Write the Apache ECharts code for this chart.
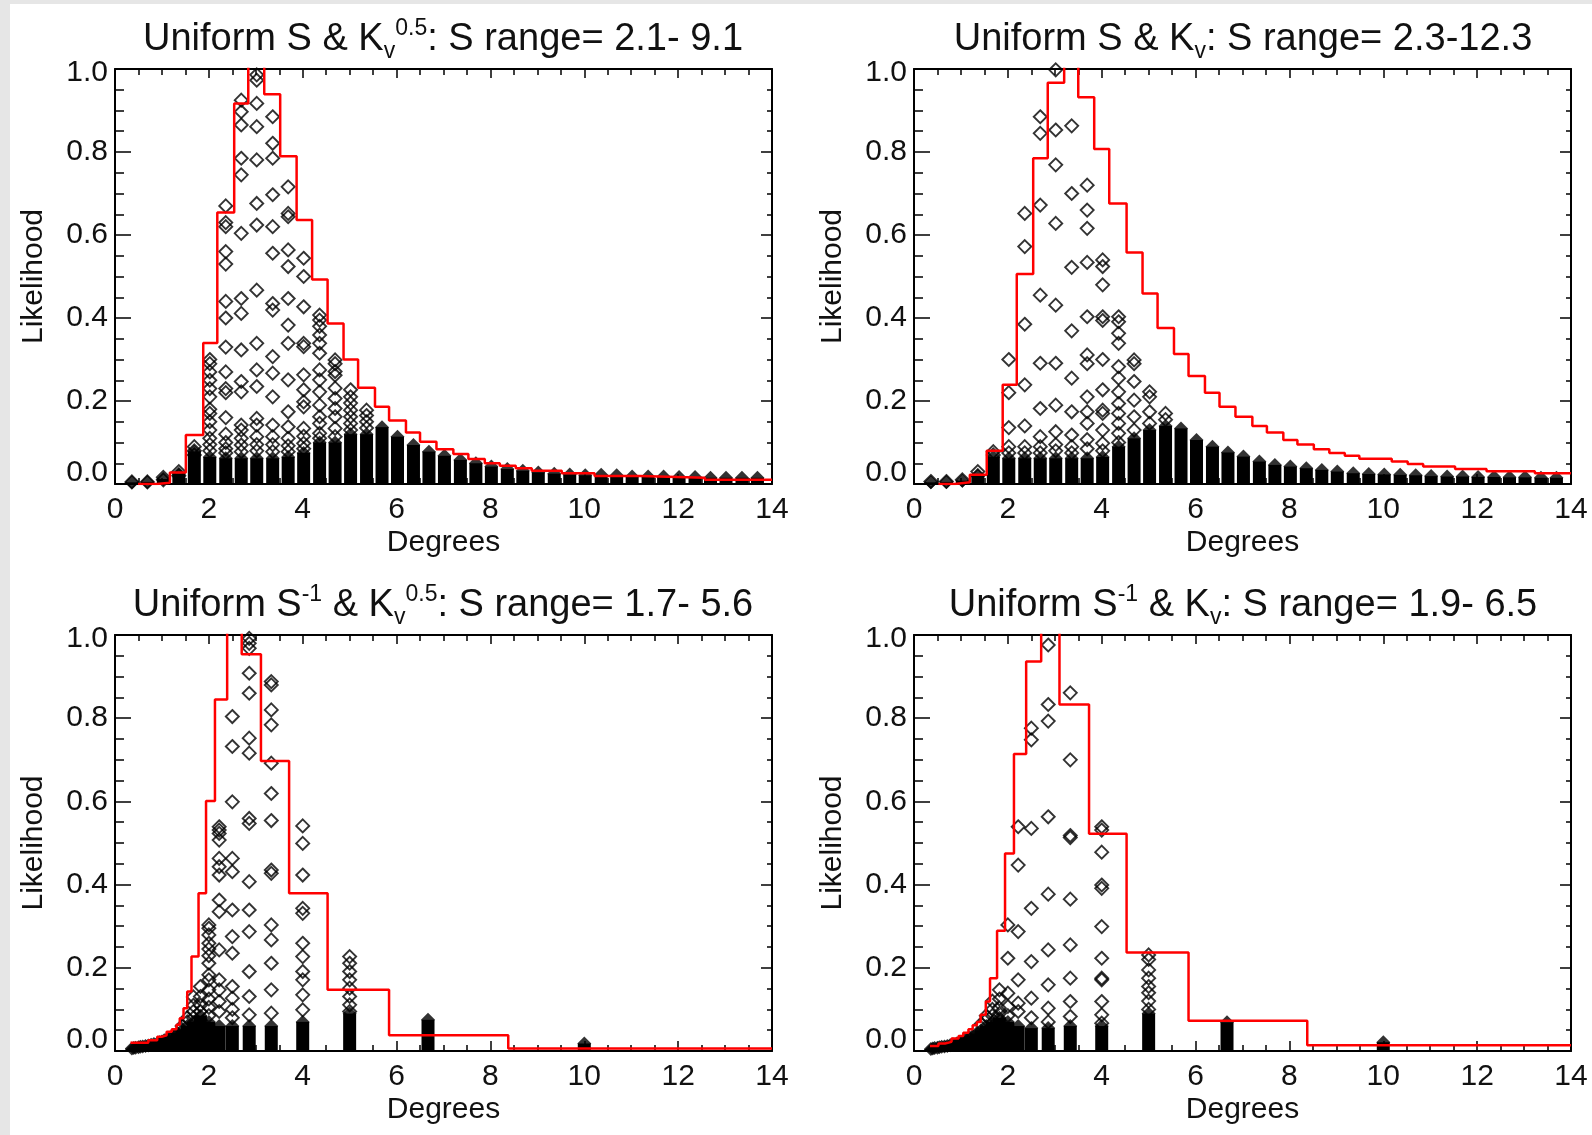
<!DOCTYPE html>
<html><head><meta charset="utf-8">
<script src="https://cdn.jsdelivr.net/npm/echarts@6/dist/echarts.min.js"></script>
<style>
html,body{margin:0;padding:0;background:#e6e6e6}
#c{width:1592px;height:1135px;background:linear-gradient(#fff,#fff) 10px 4px/1582px 1131px no-repeat,#e6e6e6}
</style>
</head><body><div id="c"></div>
<script>
// ---------- DATA ----------
const titles = [
  '{m|Uniform S & K}{sub|v}{sup|0.5}{m|: S range= 2.1- 9.1}',
  '{m|Uniform S & K}{sub|v}{m|: S range= 2.3-12.3}',
  '{m|Uniform S}{sup|-1}{m| & K}{sub|v}{sup|0.5}{m|: S range= 1.7- 5.6}',
  '{m|Uniform S}{sup|-1}{m| & K}{sub|v}{m|: S range= 1.9- 6.5}'
];
const xTickLabels = [0, 2, 4, 6, 8, 10, 12, 14];
const yTickLabels = ['0.0', '0.2', '0.4', '0.6', '0.8', '1.0'];

// panel 1: step histogram (bin edges, bin heights)
const p1StepX = [0.49,0.89,1.17,1.51,1.88,2.18,2.54,2.84,3.18,3.52,3.87,4.20,4.53,4.87,5.18,5.54,5.84,6.20,6.50,6.85,7.21,7.53,7.88,8.20,8.54,8.88,9.52,10.22,11.19,12.57,14.0];
const p1StepY = [0.0,0.003,0.028,0.118,0.340,0.654,0.917,1.05,0.939,0.790,0.636,0.493,0.387,0.300,0.232,0.186,0.153,0.124,0.102,0.084,0.072,0.060,0.050,0.044,0.038,0.032,0.026,0.019,0.015,0.010];
// panel 2
const p2StepX = [0.52,0.87,1.19,1.55,1.89,2.19,2.54,2.85,3.20,3.50,3.84,4.16,4.53,4.87,5.19,5.54,5.85,6.20,6.51,6.85,7.21,7.52,7.87,8.17,8.52,8.85,9.18,9.49,10.18,10.52,10.85,11.53,12.20,13.23,14.0];
const p2StepY = [0.0,0.004,0.022,0.080,0.239,0.506,0.785,0.967,1.05,0.932,0.807,0.676,0.558,0.459,0.376,0.313,0.260,0.220,0.186,0.162,0.140,0.124,0.106,0.095,0.084,0.075,0.068,0.061,0.054,0.048,0.042,0.036,0.031,0.026];
// panel 3
const p3StepX = [0.33,0.71,0.90,0.99,1.10,1.21,1.31,1.38,1.46,1.54,1.63,1.78,1.94,2.13,2.39,2.70,3.11,3.71,4.53,5.84,8.38,14.0];
const p3StepY = [0.020,0.026,0.034,0.038,0.046,0.052,0.063,0.079,0.103,0.143,0.227,0.379,0.601,0.845,1.05,0.954,0.697,0.379,0.147,0.038,0.006];
// panel 4
const p4StepX = [0.34,0.52,0.66,0.80,0.95,1.05,1.16,1.25,1.34,1.42,1.53,1.62,1.77,1.94,2.13,2.39,2.71,3.10,3.73,4.53,5.85,8.38,14.0];
const p4StepY = [0.012,0.018,0.022,0.030,0.036,0.044,0.052,0.062,0.070,0.087,0.119,0.175,0.289,0.475,0.714,0.936,1.05,0.833,0.522,0.237,0.073,0.014];

// columns of diamonds (x positions) and the height of the solid, overlapping stack in each column
const colX12 = [0.36,0.69,1.03,1.36,1.69,2.02,2.36,2.69,3.02,3.36,3.69,4.02,4.36,4.69,5.02,5.36,5.69,6.02,6.36,6.69,7.02,7.36,7.69,8.02,8.36,8.69,9.02,9.36,9.69,10.02,10.36,10.69,11.02,11.36,11.69,12.02,12.36,12.69,13.02,13.36,13.69];
const p1Dense = [0.004,0.005,0.012,0.025,0.078,0.065,0.062,0.062,0.062,0.062,0.065,0.075,0.10,0.10,0.12,0.12,0.137,0.114,0.094,0.078,0.068,0.058,0.050,0.042,0.036,0.032,0.028,0.025,0.023,0.021,0.022,0.021,0.018,0.018,0.018,0.017,0.017,0.015,0.015,0.015,0.015];
const p2Dense = [0.004,0.005,0.008,0.02,0.065,0.062,0.062,0.062,0.062,0.062,0.062,0.065,0.09,0.11,0.13,0.14,0.134,0.106,0.090,0.076,0.066,0.054,0.046,0.042,0.038,0.034,0.030,0.026,0.024,0.023,0.022,0.021,0.019,0.018,0.018,0.017,0.017,0.016,0.016,0.015,0.015];
const colX34 = [0.36,0.40,0.44,0.50,0.54,0.59,0.65,0.71,0.77,0.83,0.91,0.95,1.00,1.05,1.11,1.18,1.25,1.33,1.43,1.54,1.67,1.82,2.00,2.22,2.50,2.86,3.33,4.00,5.00,6.67,10.0];
const p3Dense = [0.006,0.007,0.008,0.009,0.010,0.011,0.012,0.013,0.015,0.017,0.019,0.021,0.023,0.026,0.029,0.033,0.037,0.043,0.050,0.060,0.070,0.085,0.07,0.06,0.06,0.06,0.06,0.07,0.09,0.075,0.018];
const p4Dense = [0.005,0.006,0.007,0.008,0.009,0.010,0.011,0.012,0.014,0.016,0.018,0.020,0.022,0.025,0.028,0.032,0.036,0.042,0.050,0.060,0.070,0.080,0.07,0.06,0.055,0.055,0.06,0.06,0.09,0.069,0.021];

// distinct open diamonds: [column x, [y values]]
const p1Pts = [
  [0.36,[0.005]],[0.69,[0.005]],[1.03,[0.01,0.016]],[1.36,[0.02,0.03]],[1.69,[0.09,0.08,0.07]],
  [2.02,[0.30,0.29,0.27,0.25,0.23,0.21,0.18,0.17,0.15,0.13,0.11,0.095,0.08]],
  [2.36,[0.67,0.63,0.62,0.56,0.53,0.44,0.40,0.33,0.27,0.23,0.22,0.16,0.12,0.10,0.085,0.075]],
  [2.69,[0.925,0.897,0.865,0.785,0.745,0.604,0.447,0.411,0.323,0.247,0.222,0.142,0.13,0.11,0.094,0.078]],
  [3.02,[0.986,0.973,0.917,0.861,0.781,0.676,0.624,0.467,0.339,0.275,0.235,0.158,0.142,0.114,0.095,0.08]],
  [3.36,[0.885,0.821,0.785,0.697,0.620,0.556,0.435,0.419,0.307,0.267,0.210,0.142,0.114,0.095,0.078]],
  [3.69,[0.716,0.652,0.644,0.564,0.524,0.447,0.383,0.339,0.251,0.174,0.138,0.11,0.092,0.078]],
  [4.02,[0.544,0.500,0.427,0.339,0.331,0.263,0.227,0.198,0.186,0.134,0.115,0.098,0.085]],
  [4.36,[0.407,0.395,0.38,0.359,0.339,0.315,0.275,0.251,0.222,0.190,0.162,0.146,0.122,0.11]],
  [4.69,[0.299,0.29,0.271,0.262,0.231,0.206,0.182,0.162,0.134,0.114]],
  [5.02,[0.227,0.21,0.195,0.178,0.162,0.146,0.13]],
  [5.36,[0.178,0.165,0.15,0.135]]
];
const p2Pts = [
  [0.36,[0.006]],[0.69,[0.006]],[1.03,[0.01]],[1.36,[0.02,0.03]],[1.69,[0.078,0.07]],
  [2.02,[0.300,0.220,0.136,0.09,0.075]],
  [2.36,[0.652,0.572,0.385,0.239,0.140,0.09,0.075]],
  [2.69,[0.885,0.845,0.672,0.455,0.291,0.182,0.114,0.09,0.075]],
  [3.02,[0.998,0.853,0.769,0.628,0.431,0.291,0.190,0.126,0.095,0.08]],
  [3.36,[0.863,0.700,0.522,0.369,0.255,0.174,0.118,0.09,0.075]],
  [3.69,[0.720,0.660,0.616,0.534,0.403,0.311,0.29,0.210,0.174,0.146,0.107,0.085]],
  [4.02,[0.540,0.524,0.480,0.403,0.394,0.300,0.227,0.178,0.17,0.130,0.098,0.08]],
  [4.36,[0.403,0.391,0.363,0.339,0.283,0.255,0.222,0.194,0.170,0.146,0.122,0.10]],
  [4.69,[0.299,0.29,0.247,0.202,0.162,0.130]],
  [5.02,[0.222,0.21,0.174,0.146]],
  [5.36,[0.170,0.155]]
];
const p3Pts = [
  [1.43,[0.06]],[1.54,[0.08,0.07]],[1.67,[0.13,0.11,0.095,0.08]],[1.82,[0.155,0.131,0.11,0.095]],
  [2.00,[0.303,0.295,0.279,0.259,0.245,0.229,0.211,0.183,0.171,0.147,0.125,0.105,0.085]],
  [2.22,[0.539,0.531,0.523,0.507,0.463,0.443,0.423,0.363,0.335,0.243,0.171,0.147,0.119,0.095]],
  [2.50,[0.804,0.732,0.599,0.463,0.431,0.339,0.275,0.235,0.155,0.127,0.10,0.08]],
  [2.86,[0.992,0.98,0.968,0.908,0.860,0.752,0.716,0.559,0.547,0.407,0.339,0.287,0.191,0.131,0.087]],
  [3.33,[0.888,0.880,0.820,0.784,0.692,0.619,0.554,0.435,0.427,0.303,0.267,0.211,0.147,0.091]],
  [4.00,[0.541,0.499,0.423,0.343,0.331,0.259,0.227,0.191,0.171,0.135,0.099]],
  [5.00,[0.227,0.211,0.191,0.171,0.151,0.131,0.111,0.095]]
];
const p4Pts = [
  [1.43,[0.065]],[1.54,[0.085,0.075]],[1.67,[0.12,0.10,0.085]],[1.82,[0.147,0.125,0.103,0.09]],
  [2.00,[0.303,0.223,0.139,0.107,0.085]],
  [2.22,[0.539,0.447,0.287,0.171,0.115,0.095]],
  [2.50,[0.776,0.748,0.535,0.343,0.215,0.127,0.08]],
  [2.86,[0.976,0.833,0.793,0.563,0.377,0.243,0.159,0.103,0.07]],
  [3.33,[0.861,0.700,0.518,0.513,0.365,0.255,0.175,0.119,0.083]],
  [4.00,[0.539,0.531,0.478,0.399,0.391,0.299,0.223,0.175,0.171,0.119,0.087,0.067]],
  [5.00,[0.231,0.22,0.195,0.175,0.155,0.14,0.12,0.10]]
];

// ---------- CHART ----------
const FONT = "'Liberation Sans', Arial, Helvetica, sans-serif";
const INK = '#111';
const panels = [
  {stepX:p1StepX, stepY:p1StepY, colX:colX12, dense:p1Dense, pts:p1Pts},
  {stepX:p2StepX, stepY:p2StepY, colX:colX12, dense:p2Dense, pts:p2Pts},
  {stepX:p3StepX, stepY:p3StepY, colX:colX34, dense:p3Dense, pts:p3Pts},
  {stepX:p4StepX, stepY:p4StepY, colX:colX34, dense:p4Dense, pts:p4Pts}
];
const gridBoxes = [
  {left:115, top:69, width:657, height:415},
  {left:914, top:69, width:657, height:415},
  {left:115, top:635, width:657, height:416},
  {left:914, top:635, width:657, height:416}
];
const titlePos = [[443,40],[1243,40],[443,606],[1243,606]];

const grid = [], xAxis = [], yAxis = [], series = [], graphic = [];
const lineBlack = (w) => ({color:'#000', width:w});

gridBoxes.forEach((b, g) => {
  grid.push(Object.assign({outerBoundsMode:'none', containLabel:false}, b));
  const xMin = xTickLabels[0], xMax = xTickLabels[xTickLabels.length-1];
  const xStep = xTickLabels[1] - xTickLabels[0];
  xAxis.push({
    gridIndex:g, type:'value', position:'bottom', min:xMin, max:xMax, interval:xStep,
    axisLine:{show:true, onZero:false, lineStyle:lineBlack(2)},
    axisTick:{show:true, inside:true, length:10, lineStyle:lineBlack(1.5)},
    minorTick:{show:true, splitNumber:4, length:6, lineStyle:lineBlack(1.5)},
    splitLine:{show:false}, minorSplitLine:{show:false},
    axisLabel:{show:true, margin:11, fontSize:30, fontFamily:FONT, color:INK, showMinLabel:true, showMaxLabel:true},
    name:'Degrees', nameLocation:'middle', nameGap:44,
    nameTextStyle:{fontSize:30, fontFamily:FONT, color:INK}
  });
  xAxis.push({
    gridIndex:g, type:'value', position:'top', min:xMin, max:xMax, interval:xStep,
    axisLine:{show:true, onZero:false, lineStyle:lineBlack(2)},
    axisTick:{show:true, inside:true, length:9, lineStyle:lineBlack(1.5)},
    minorTick:{show:true, splitNumber:4, length:6, lineStyle:lineBlack(1.5)},
    splitLine:{show:false}, minorSplitLine:{show:false},
    axisLabel:{show:false}
  });
  yAxis.push({
    gridIndex:g, type:'value', position:'left', min:0, max:1, interval:0.2,
    axisLine:{show:true, onZero:false, lineStyle:lineBlack(2)},
    axisTick:{show:true, inside:true, length:16, lineStyle:lineBlack(1.5)},
    minorTick:{show:true, splitNumber:4, length:9, lineStyle:lineBlack(1.5)},
    splitLine:{show:false}, minorSplitLine:{show:false},
    axisLabel:{
      show:true, margin:7, fontSize:30, fontFamily:FONT, color:INK, showMinLabel:true, showMaxLabel:true,
      formatter:function(v){
        const i = Math.round(v/0.2);
        const t = yTickLabels[i];
        if (i === 0) return '{lo|' + t + '}';
        if (i === yTickLabels.length-1) return '{hi|' + t + '}';
        return t;
      },
      rich:{
        lo:{fontSize:30, fontFamily:FONT, color:INK, padding:[0,0,22,0]},
        hi:{fontSize:30, fontFamily:FONT, color:INK, padding:[8,0,0,0]}
      }
    },
    name:'Likelihood', nameLocation:'middle', nameGap:66,
    nameTextStyle:{fontSize:30, fontFamily:FONT, color:INK}
  });
  yAxis.push({
    gridIndex:g, type:'value', position:'right', min:0, max:1, interval:0.2,
    axisLine:{show:true, onZero:false, lineStyle:lineBlack(2)},
    axisTick:{show:true, inside:true, length:11, lineStyle:lineBlack(1.5)},
    minorTick:{show:true, splitNumber:4, length:5, lineStyle:lineBlack(1.5)},
    splitLine:{show:false}, minorSplitLine:{show:false},
    axisLabel:{show:false}
  });

  const p = panels[g];
  const xi = 2*g, yi = 2*g;
  const denseData = p.colX.map((x, i) => [x, p.dense[i]]);
  series.push({
    type:'bar', xAxisIndex:xi, yAxisIndex:yi, data:denseData, barWidth:13,
    itemStyle:{color:'#000'}, silent:true, animation:false, z:2
  });
  series.push({
    type:'scatter', xAxisIndex:xi, yAxisIndex:yi, data:denseData, symbol:'diamond', symbolSize:14,
    itemStyle:{color:'#000'}, silent:true, animation:false, z:3
  });
  const ptsData = [];
  p.pts.forEach(([x, ys]) => ys.forEach(y => ptsData.push([x, y])));
  series.push({
    type:'scatter', xAxisIndex:xi, yAxisIndex:yi, data:ptsData, symbol:'diamond', symbolSize:13,
    itemStyle:{color:'rgba(0,0,0,0)', borderColor:'#000', borderWidth:1.9},
    silent:true, animation:false, z:4
  });
  const stepData = p.stepX.map((x, i) => [x, p.stepY[Math.min(i, p.stepY.length-1)]]);
  series.push({
    type:'line', xAxisIndex:xi, yAxisIndex:yi, data:stepData, step:'end', symbol:'none',
    lineStyle:{color:'#ff0000', width:2.5}, silent:true, animation:false, z:6, clip:true
  });

  graphic.push({
    type:'text', x:titlePos[g][0], y:titlePos[g][1], silent:true,
    style:{
      text:titles[g], align:'center', verticalAlign:'middle',
      rich:{
        m:{fontSize:38, lineHeight:46, fontFamily:FONT, fill:INK, color:INK, verticalAlign:'middle'},
        sub:{fontSize:23, lineHeight:28, fontFamily:FONT, fill:INK, color:INK, verticalAlign:'bottom'},
        sup:{fontSize:23, lineHeight:30, fontFamily:FONT, fill:INK, color:INK, verticalAlign:'top'}
      }
    }
  });
});

const chart = echarts.init(document.getElementById('c'), null, {renderer:'canvas'});
chart.setOption({
  animation:false,
  backgroundColor:'transparent',
  grid, xAxis, yAxis, series, graphic
});
</script>
</body></html>
